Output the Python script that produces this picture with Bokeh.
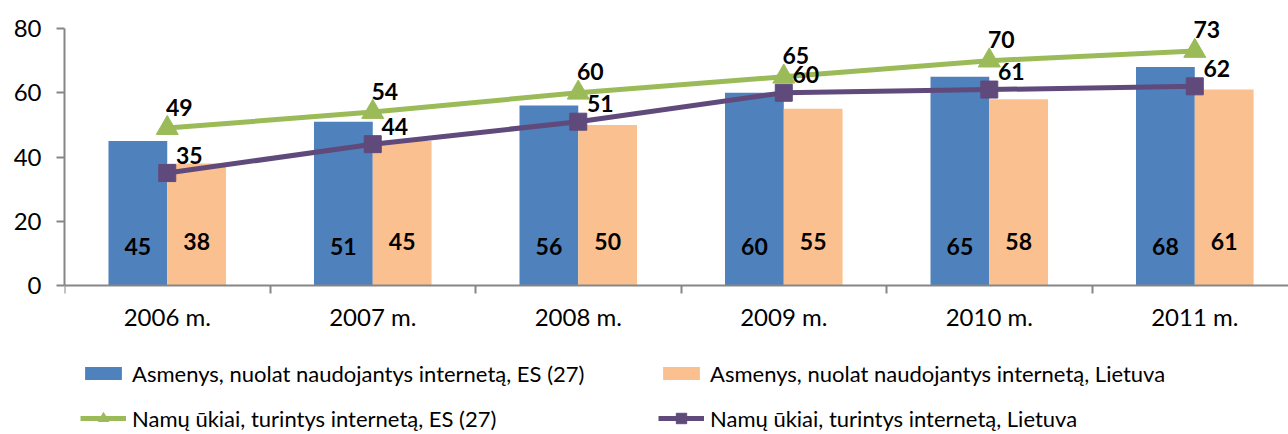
import numpy as np
from bokeh.plotting import figure
from bokeh.models import ColumnDataSource, Range1d, FixedTicker, Legend, LegendItem
from bokeh.core.properties import value
from bokeh.transform import dodge
from bokeh.embed import file_html
from bokeh.resources import INLINE

categories = ["2006 m.", "2007 m.", "2008 m.", "2009 m.", "2010 m.", "2011 m."]
es_persons = [45, 51, 56, 60, 65, 68]
lt_persons = [38, 45, 50, 55, 58, 61]
es_households = [49, 54, 60, 65, 70, 73]
lt_households = [35, 44, 51, 60, 61, 62]

series_names = [
    "Asmenys, nuolat naudojantys internetą, ES (27)",
    "Asmenys, nuolat naudojantys internetą, Lietuva",
    "Namų ūkiai, turintys internetą, ES (27)",
    "Namų ūkiai, turintys internetą, Lietuva",
]

BLUE = "#4F81BD"
PEACH = "#FAC090"
GREEN = "#9BBB59"
PURPLE = "#604A7B"
AXIS = "#868686"
FONT = "Lato"

x = np.arange(len(categories))
src = ColumnDataSource(dict(
    x=x,
    zero=np.zeros(len(x)),
    es_p=es_persons, lt_p=lt_persons, es_h=es_households, lt_h=lt_households,
    es_p_t=[str(v) for v in es_persons], lt_p_t=[str(v) for v in lt_persons],
    es_h_t=[str(v) for v in es_households], lt_h_t=[str(v) for v in lt_households],
))

# frame covers the whole figure height; value axis spans 0..80 only
p = figure(width=1288, height=434, output_backend="svg", toolbar_location=None,
           x_range=Range1d(-0.5, 5.456), y_range=Range1d(-46.38, 88.72),
           min_border_left=64, min_border_right=0, min_border_top=0, min_border_bottom=0)
p.outline_line_color = None
p.xgrid.visible = False
p.ygrid.visible = False
p.background_fill_color = "white"
p.border_fill_color = "white"

bw = 0.286
r_b1 = p.vbar(x=dodge("x", -bw / 2), top="es_p", width=bw, source=src, fill_color=BLUE, line_color=None)
r_b2 = p.vbar(x=dodge("x", bw / 2), top="lt_p", width=bw, source=src, fill_color=PEACH, line_color=None)

r_l1 = p.line(x="x", y="es_h", source=src, line_color=GREEN, line_width=5)
r_m1 = p.scatter(x="x", y="es_h", source=src, marker="triangle", size=22, fill_color=GREEN, line_color=GREEN)
r_l2 = p.line(x="x", y="lt_h", source=src, line_color=PURPLE, line_width=5)
r_m2 = p.scatter(x="x", y="lt_h", source=src, marker="square", size=17, fill_color=PURPLE, line_color=PURPLE)

lab = dict(text_font=value(FONT), text_font_style="bold", text_font_size="23px",
           text_align="center", text_baseline="middle", text_color="black", source=src)
p.text(x=dodge("x", -bw / 2), y="zero", text="es_p_t", y_offset=-39, **lab)
p.text(x=dodge("x", bw / 2), y="zero", text="lt_p_t", y_offset=-44, **lab)
p.text(x="x", y="es_h", text="es_h_t", x_offset=12, y_offset=-21, **lab)
p.text(x="x", y="lt_h", text="lt_h_t", x_offset=22, y_offset=-18, **lab)

# axes
ya = p.yaxis[0]
ya.bounds = (0, 80)
ya.ticker = FixedTicker(ticks=[0, 20, 40, 60, 80], minor_ticks=[])
ya.major_tick_in = 0
ya.major_tick_out = 8
ya.minor_tick_line_color = None
ya.axis_line_color = AXIS
ya.axis_line_width = 2
ya.major_tick_line_color = AXIS
ya.major_tick_line_width = 2
ya.major_label_text_font = FONT
ya.major_label_text_font_size = "24px"
ya.major_label_text_color = "black"
ya.major_label_standoff = 15

xa = p.xaxis[0]
xa.fixed_location = 0
xa.ticker = FixedTicker(ticks=list(x), minor_ticks=[i - 0.5 for i in range(len(categories) + 1)])
xa.major_label_overrides = {int(i): c for i, c in zip(x, categories)}
xa.major_tick_in = 0
xa.major_tick_out = 0
xa.minor_tick_in = 0
xa.minor_tick_out = 8
xa.minor_tick_line_color = AXIS
xa.minor_tick_line_width = 2
xa.axis_line_color = AXIS
xa.axis_line_width = 2
xa.major_label_text_font = FONT
xa.major_label_text_font_size = "24px"
xa.major_label_text_color = "black"
xa.major_label_standoff = 8

leg_style = dict(label_text_font=FONT, label_text_font_size="22px", label_text_color="black",
                 glyph_width=46, label_height=28, label_standoff=6,
                 padding=0, margin=0, border_line_color=None, background_fill_alpha=0)
legend_specs = [
    (series_names[0], [r_b1], 16, (16, 47)),
    (series_names[1], [r_b2], 16, (594, 47)),
    (series_names[2], [r_l1, r_m1], 26, (16, 2)),
    (series_names[3], [r_l2, r_m2], 26, (594, 2)),
]
for label, rends, gh, loc in legend_specs:
    leg = Legend(items=[LegendItem(label=label, renderers=rends)], location=loc,
                 glyph_height=gh, **leg_style)
    p.add_layout(leg, "center")

open("out.html", "w").write(file_html(p, INLINE))
